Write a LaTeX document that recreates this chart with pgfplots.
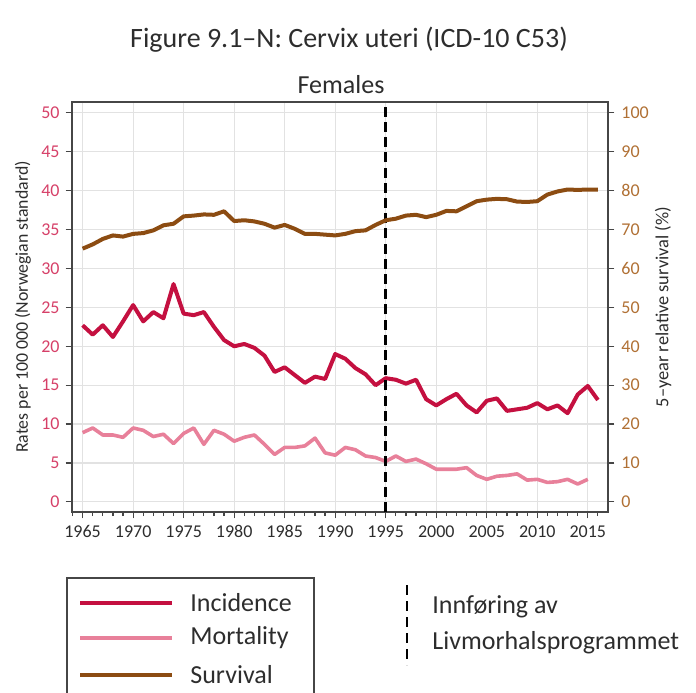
\documentclass[border=0pt]{standalone}
\usepackage{pgfplots}
\pgfplotsset{compat=1.18}
\usepackage{pgfplotstable}
\usepackage{fontspec}
\setmainfont{Carlito}
\definecolor{inc}{RGB}{196,16,64}
\definecolor{mor}{RGB}{232,128,154}
\definecolor{sur}{RGB}{140,76,18}
\definecolor{lefttick}{RGB}{214,64,104}
\definecolor{righttick}{RGB}{176,112,52}
\definecolor{gridc}{RGB}{226,226,226}
\definecolor{axc}{RGB}{70,70,70}
\definecolor{txt}{RGB}{45,45,45}

\pgfplotstableread{
year val
1965 22.7
1966 21.5
1967 22.7
1968 21.2
1969 23.2
1970 25.3
1971 23.2
1972 24.4
1973 23.6
1974 28.0
1975 24.2
1976 24.0
1977 24.4
1978 22.5
1979 20.8
1980 20.0
1981 20.3
1982 19.8
1983 18.8
1984 16.7
1985 17.3
1986 16.3
1987 15.3
1988 16.1
1989 15.8
1990 19.0
1991 18.4
1992 17.2
1993 16.4
1994 15.0
1995 15.9
1996 15.7
1997 15.2
1998 15.7
1999 13.2
2000 12.4
2001 13.2
2002 13.9
2003 12.4
2004 11.5
2005 13.0
2006 13.3
2007 11.7
2008 11.9
2009 12.1
2010 12.7
2011 11.9
2012 12.4
2013 11.4
2014 13.8
2015 14.9
2016 13.1
}\incidence

\pgfplotstableread{
year val
1965 8.9
1966 9.5
1967 8.6
1968 8.6
1969 8.3
1970 9.5
1971 9.2
1972 8.4
1973 8.7
1974 7.5
1975 8.8
1976 9.5
1977 7.4
1978 9.2
1979 8.7
1980 7.8
1981 8.3
1982 8.6
1983 7.4
1984 6.1
1985 7.0
1986 7.0
1987 7.2
1988 8.2
1989 6.3
1990 6.0
1991 7.0
1992 6.7
1993 5.9
1994 5.7
1995 5.2
1996 5.9
1997 5.2
1998 5.5
1999 4.9
2000 4.2
2001 4.2
2002 4.2
2003 4.4
2004 3.4
2005 2.9
2006 3.3
2007 3.4
2008 3.6
2009 2.8
2010 2.9
2011 2.5
2012 2.6
2013 2.9
2014 2.3
2015 2.9
}\mortality

\pgfplotstableread{
year val
1965 65.1
1966 66.2
1967 67.6
1968 68.5
1969 68.2
1970 68.9
1971 69.1
1972 69.8
1973 71.1
1974 71.5
1975 73.4
1976 73.6
1977 73.9
1978 73.8
1979 74.7
1980 72.2
1981 72.4
1982 72.1
1983 71.5
1984 70.5
1985 71.2
1986 70.2
1987 68.9
1988 68.9
1989 68.7
1990 68.5
1991 68.9
1992 69.6
1993 69.8
1994 71.2
1995 72.4
1996 72.8
1997 73.6
1998 73.8
1999 73.2
2000 73.8
2001 74.8
2002 74.7
2003 76.0
2004 77.3
2005 77.7
2006 77.9
2007 77.8
2008 77.2
2009 77.1
2010 77.3
2011 79.0
2012 79.8
2013 80.3
2014 80.2
2015 80.3
2016 80.3
}\survival

\begin{document}
\begin{tikzpicture}
\useasboundingbox (-36pt,-90pt) rectangle (312pt,256pt);
\begin{axis}[
  at={(0pt,0pt)}, anchor=south west,
  scale only axis, width=268pt, height=205pt,
  xmin=1963.95, xmax=2017, ymin=-1.3, ymax=51.4,
  xtick={1965,1970,...,2015}, minor xtick={1964,...,2016},
  ytick={0,5,...,50},
  xtick pos=bottom, ytick pos=left,
  tick align=outside,
  major tick length=3.2pt, minor tick length=2pt,
  grid=major, major grid style={gridc, line width=0.6pt},
  axis line style={axc, line width=0.8pt},
  every tick/.style={axc, line width=0.6pt},
  /pgf/number format/1000 sep={},
  /pgf/number format/assume math mode=true,
  tick label style={font=\fontsize{9}{10}\selectfont},
  yticklabel style={text=lefttick, xshift=0.5pt},
  xticklabel style={text=txt},
  clip=false,
]
\addplot[inc, line width=2pt, line join=round] table[x=year, y=val] {\incidence};
\addplot[mor, line width=1.8pt, line join=round] table[x=year, y=val] {\mortality};
\addplot[black, line width=1.5pt, dash pattern=on 5pt off 2.6pt] coordinates {(1995,-1.3) (1995,51.4)};
\end{axis}
\begin{axis}[
  at={(0pt,0pt)}, anchor=south west,
  scale only axis, width=268pt, height=205pt,
  xmin=1963.95, xmax=2017, ymin=-2.6, ymax=102.8,
  axis y line*=right, axis x line=none,
  ytick={0,10,...,100},
  tick align=outside,
  major tick length=3.2pt,
  axis line style={axc, line width=0.8pt},
  every tick/.style={axc, line width=0.6pt},
  /pgf/number format/assume math mode=true,
  tick label style={font=\fontsize{9}{10}\selectfont},
  yticklabel style={text=righttick},
]
\addplot[sur, line width=2pt, line join=round] table[x=year, y=val] {\survival};
\end{axis}
% titles
\node[text=txt, font=\fontsize{14}{16}\selectfont] at (138.5pt,236pt) {Figure 9.1–N: Cervix uteri (ICD-10 C53)};
\node[text=txt, font=\fontsize{13}{15}\selectfont] at (134.5pt,213.5pt) {Females};
% axis labels
\node[text=txt, rotate=90, font=\fontsize{8.9}{10}\selectfont] at (-24.5pt,102.5pt) {Rates per 100 000 (Norwegian standard)};
\node[text=txt, rotate=90, font=\fontsize{9.2}{10}\selectfont] at (295.5pt,102.5pt) {5–year relative survival (\%)};
% legend
\draw[axc, line width=0.6pt] (-2.5pt,-95pt) -- (-2.5pt,-33pt) -- (121pt,-33pt) -- (121pt,-95pt);
\draw[inc, line width=2.2pt] (4pt,-45.5pt) -- (50pt,-45.5pt);
\draw[mor, line width=2.2pt] (4pt,-63pt) -- (50pt,-63pt);
\draw[sur, line width=2.2pt] (4pt,-81.5pt) -- (50pt,-81.5pt);
\node[anchor=west, text=txt, font=\fontsize{13}{15}\selectfont, inner sep=0pt] at (59pt,-45.5pt) {Incidence};
\node[anchor=west, text=txt, font=\fontsize{13}{15}\selectfont, inner sep=0pt] at (59pt,-63pt) {Mortality};
\node[anchor=west, text=txt, font=\fontsize{13}{15}\selectfont, inner sep=0pt] at (59pt,-81.5pt) {Survival};
\draw[black, line width=1pt, dash pattern=on 5pt off 3pt] (167.5pt,-36.5pt) -- (167.5pt,-76.5pt);
\node[anchor=west, text=txt, font=\fontsize{13}{15}\selectfont, inner sep=0pt] at (180pt,-47.5pt) {Innføring av};
\node[anchor=west, text=txt, font=\fontsize{13}{15}\selectfont, inner sep=0pt] at (180pt,-65.5pt) {Livmorhalsprogrammet};
\end{tikzpicture}
\end{document}
